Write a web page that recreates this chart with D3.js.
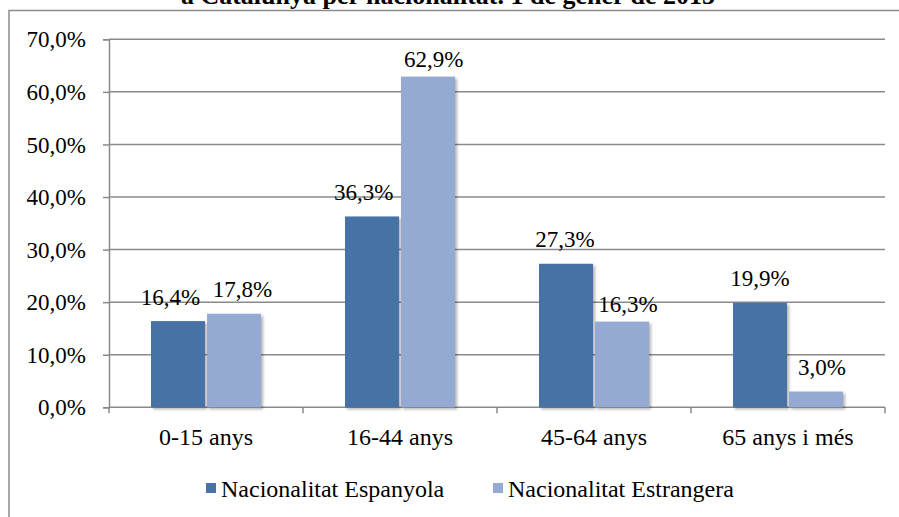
<!DOCTYPE html>
<html><head><meta charset="utf-8">
<script src="https://cdn.jsdelivr.net/npm/d3@7"></script>
<style>
body{margin:0;background:#fff}
svg{display:block}
</style>
</head><body>
<svg id="c" width="899" height="517"></svg>
<script>
const categories = ["0-15 anys", "16-44 anys", "45-64 anys", "65 anys i més"];
const seriesNames = ["Nacionalitat Espanyola", "Nacionalitat Estrangera"];
const espanyola = [16.4, 36.3, 27.3, 19.9];
const estrangera = [17.8, 62.9, 16.3, 3.0];
const yTicks = [0, 10, 20, 30, 40, 50, 60, 70];
const titleText = "a Catalunya per nacionalitat. 1 de gener de 2015";
// label nudges (px) as placed in the original
const labelDy = [[-16, -17], [-16.5, -10], [-17, -10], [-17, -16.5]];
const labelDx = [[-7.5, 8.5], [-8.3, 5.7], [-1, 6], [0, 6]];

const colors = ["#4672A6", "#95AAD2"];
const svg = d3.select("#c");
const FF = '"Liberation Serif"';

const defs = svg.append("defs");
const f = defs.append("filter").attr("id","sh").attr("x","-20%").attr("y","-20%").attr("width","150%").attr("height","150%");
f.append("feDropShadow").attr("dx",2).attr("dy",2).attr("stdDeviation",1.5).attr("flood-color","#000").attr("flood-opacity",0.3);

// outer border
svg.append("rect").attr("x",9).attr("y",10.5).attr("width",905).attr("height",520)
  .attr("fill","none").attr("stroke","#8c8c8c").attr("stroke-width",1.5);

// title (partly cut off at the top, as in the original)
svg.append("text").attr("x",448).attr("y",4).attr("text-anchor","middle")
  .style("font-family",FF).attr("font-weight","bold").attr("font-size",26).text(titleText);

const L = 109, R = 885, T = 39.3, B = 407.3;
const x0 = d3.scaleBand().domain(categories).range([L, R]).paddingInner(84/194).paddingOuter(42/194);
const x1 = d3.scaleBand().domain(seriesNames).range([0, x0.bandwidth()]).paddingInner(2/55);
const y = d3.scaleLinear().domain([0, 70]).range([B, T]);
const fmt = v => d3.format(".1f")(v).replace(".", ",") + "%";

// gridlines
svg.append("g").selectAll("line").data(yTicks.filter(d=>d>0)).join("line")
  .attr("x1", L).attr("x2", R).attr("y1", d=>y(d)).attr("y2", d=>y(d))
  .attr("stroke","#8a8a8a").attr("stroke-width",1.5);

// y axis
const ya = svg.append("g").attr("transform",`translate(${L},0)`)
  .call(d3.axisLeft(y).tickValues(yTicks).tickFormat(fmt).tickSize(6).tickPadding(17));
ya.attr("font-family", null);
ya.select(".domain").attr("stroke","#8a8a8a").attr("stroke-width",1.5);
ya.selectAll(".tick line").attr("stroke","#8a8a8a").attr("stroke-width",1.5);
ya.selectAll("text").style("font-family",FF).attr("font-size",23).attr("fill","#000").attr("dy","0.33em");

// x axis
const xa = svg.append("g").attr("transform",`translate(0,${B})`);
xa.append("line").attr("x1",L).attr("x2",R).attr("stroke","#8a8a8a").attr("stroke-width",1.5);
const bounds = categories.map(c => x0(c) - x0.step()*x0.paddingInner()/2).concat([R]);
xa.selectAll("line.t").data(bounds).join("line").attr("class","t")
  .attr("x1",d=>d).attr("x2",d=>d).attr("y1",0).attr("y2",6).attr("stroke","#8a8a8a").attr("stroke-width",1.5);
xa.selectAll("text").data(categories).join("text")
  .attr("x", d=>x0(d)+x0.bandwidth()/2).attr("y", 38).attr("text-anchor","middle")
  .style("font-family",FF).attr("font-size",24).text(d=>d);

// bars
const series = [espanyola, estrangera];
const g = svg.append("g");
categories.forEach((c, i) => {
  series.forEach((s, j) => {
    const xx = x0(c) + x1(seriesNames[j]);
    g.append("rect").attr("x", xx).attr("y", y(s[i])).attr("width", x1.bandwidth())
      .attr("height", B - y(s[i])).attr("fill", colors[j]).attr("filter","url(#sh)");
  });
});
categories.forEach((c, i) => {
  series.forEach((s, j) => {
    const xx = x0(c) + x1(seriesNames[j]);
    g.append("text").attr("x", xx + x1.bandwidth()/2 + labelDx[i][j]).attr("y", y(s[i]) + labelDy[i][j])
      .attr("text-anchor","middle").style("font-family",FF).attr("font-size",23).text(fmt(s[i]));
  });
});

// legend
const leg = svg.append("g");
const legX = [206, 493];
seriesNames.forEach((n, j) => {
  leg.append("rect").attr("x", legX[j]).attr("y", 483).attr("width", 10).attr("height", 10).attr("fill", colors[j]);
  leg.append("text").attr("x", legX[j] + 15).attr("y", 497).style("font-family",FF).attr("font-size",24).text(n);
});
</script>
</body></html>
